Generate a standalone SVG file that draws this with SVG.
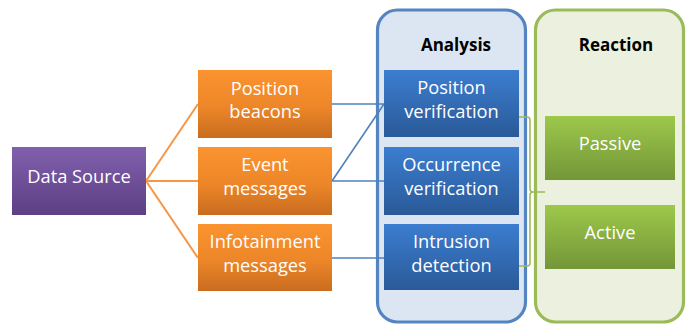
<svg xmlns="http://www.w3.org/2000/svg" width="693" height="324" viewBox="0 0 693 324">
<defs>
<linearGradient id="gPurple" x1="0" y1="0" x2="0" y2="1"><stop offset="0" stop-color="#8060ac"/><stop offset="1" stop-color="#5d3f84"/></linearGradient>
<linearGradient id="gOrange" x1="0" y1="0" x2="0" y2="1"><stop offset="0" stop-color="#fb9330"/><stop offset="0.55" stop-color="#ec8628"/><stop offset="1" stop-color="#c96c20"/></linearGradient>
<linearGradient id="gBlue" x1="0" y1="0" x2="0" y2="1"><stop offset="0" stop-color="#3c7dd0"/><stop offset="1" stop-color="#2a5a98"/></linearGradient>
<linearGradient id="gGreen" x1="0" y1="0" x2="0" y2="1"><stop offset="0" stop-color="#9dc84b"/><stop offset="1" stop-color="#739638"/></linearGradient>
</defs>
<style>
.t{font-family:"Open Sans","Noto Sans","Liberation Sans",sans-serif;font-size:18.3px;fill:#ffffff;text-anchor:middle}
.h{font-family:"Open Sans","Noto Sans","Liberation Sans",sans-serif;font-size:17px;font-weight:bold;fill:#000000;text-anchor:middle}
.oc{stroke:#f79646;stroke-width:2;fill:none}
.bc{stroke:#4f81bd;stroke-width:1.6;fill:none}
.gc{stroke:#9bbb59;stroke-width:1.6;fill:none}
</style>
<g id="analysis">
<rect x="377.5" y="10" width="148" height="312" rx="20" ry="20" fill="#dce6f2" stroke="#5585c1" stroke-width="3.2"/>
<text class="h" x="456" y="51">Analysis</text>
</g>
<g id="reaction">
<rect x="535.5" y="10" width="148" height="312" rx="20" ry="20" fill="#ebf1de" stroke="#9bbb59" stroke-width="3.2"/>
<text class="h" x="616" y="51">Reaction</text>
</g>
<g id="connectors">
<path class="oc" d="M146,181 L198,104 M146,181 L198,181 M146,181 L198,258"/>
<path class="bc" d="M332,104 L384,104 M332,181 L384,104 M332,181 L384,181 M332,258 L384,258"/>
<path class="gc" d="M519,117 H527 Q530,117 530,120 V189 Q530,192 533,192 H545 M519,266 H527 Q530,266 530,263 V195 Q530,192 533,192"/>
</g>
<g id="data-source">
<rect x="12" y="147" width="134" height="68" fill="url(#gPurple)"/>
<text class="t" x="79" y="183">Data Source</text>
</g>
<g id="position-beacons">
<rect x="198" y="70" width="134" height="68" fill="url(#gOrange)"/>
<text class="t" x="265" y="94.5">Position</text>
<text class="t" x="265" y="118">beacons</text>
</g>
<g id="event-messages">
<rect x="198" y="147" width="134" height="68" fill="url(#gOrange)"/>
<text class="t" x="265" y="171">Event</text>
<text class="t" x="265" y="195">messages</text>
</g>
<g id="infotainment-messages">
<rect x="198" y="224" width="134" height="67" fill="url(#gOrange)"/>
<text class="t" x="265" y="248">Infotainment</text>
<text class="t" x="265" y="271.5">messages</text>
</g>
<g id="position-verification">
<rect x="384" y="70" width="135" height="67" fill="url(#gBlue)"/>
<text class="t" x="451.5" y="94">Position</text>
<text class="t" x="451.5" y="118">verification</text>
</g>
<g id="occurrence-verification">
<rect x="384" y="147" width="135" height="68" fill="url(#gBlue)"/>
<text class="t" x="451.5" y="171">Occurrence</text>
<text class="t" x="451.5" y="195">verification</text>
</g>
<g id="intrusion-detection">
<rect x="384" y="224" width="135" height="66" fill="url(#gBlue)"/>
<text class="t" x="451.5" y="248">Intrusion</text>
<text class="t" x="451.5" y="272">detection</text>
</g>
<g id="passive">
<rect x="545" y="116" width="130" height="64" fill="url(#gGreen)"/>
<text class="t" x="610" y="150">Passive</text>
</g>
<g id="active">
<rect x="545" y="205" width="130" height="64" fill="url(#gGreen)"/>
<text class="t" x="610" y="239">Active</text>
</g>
</svg>
